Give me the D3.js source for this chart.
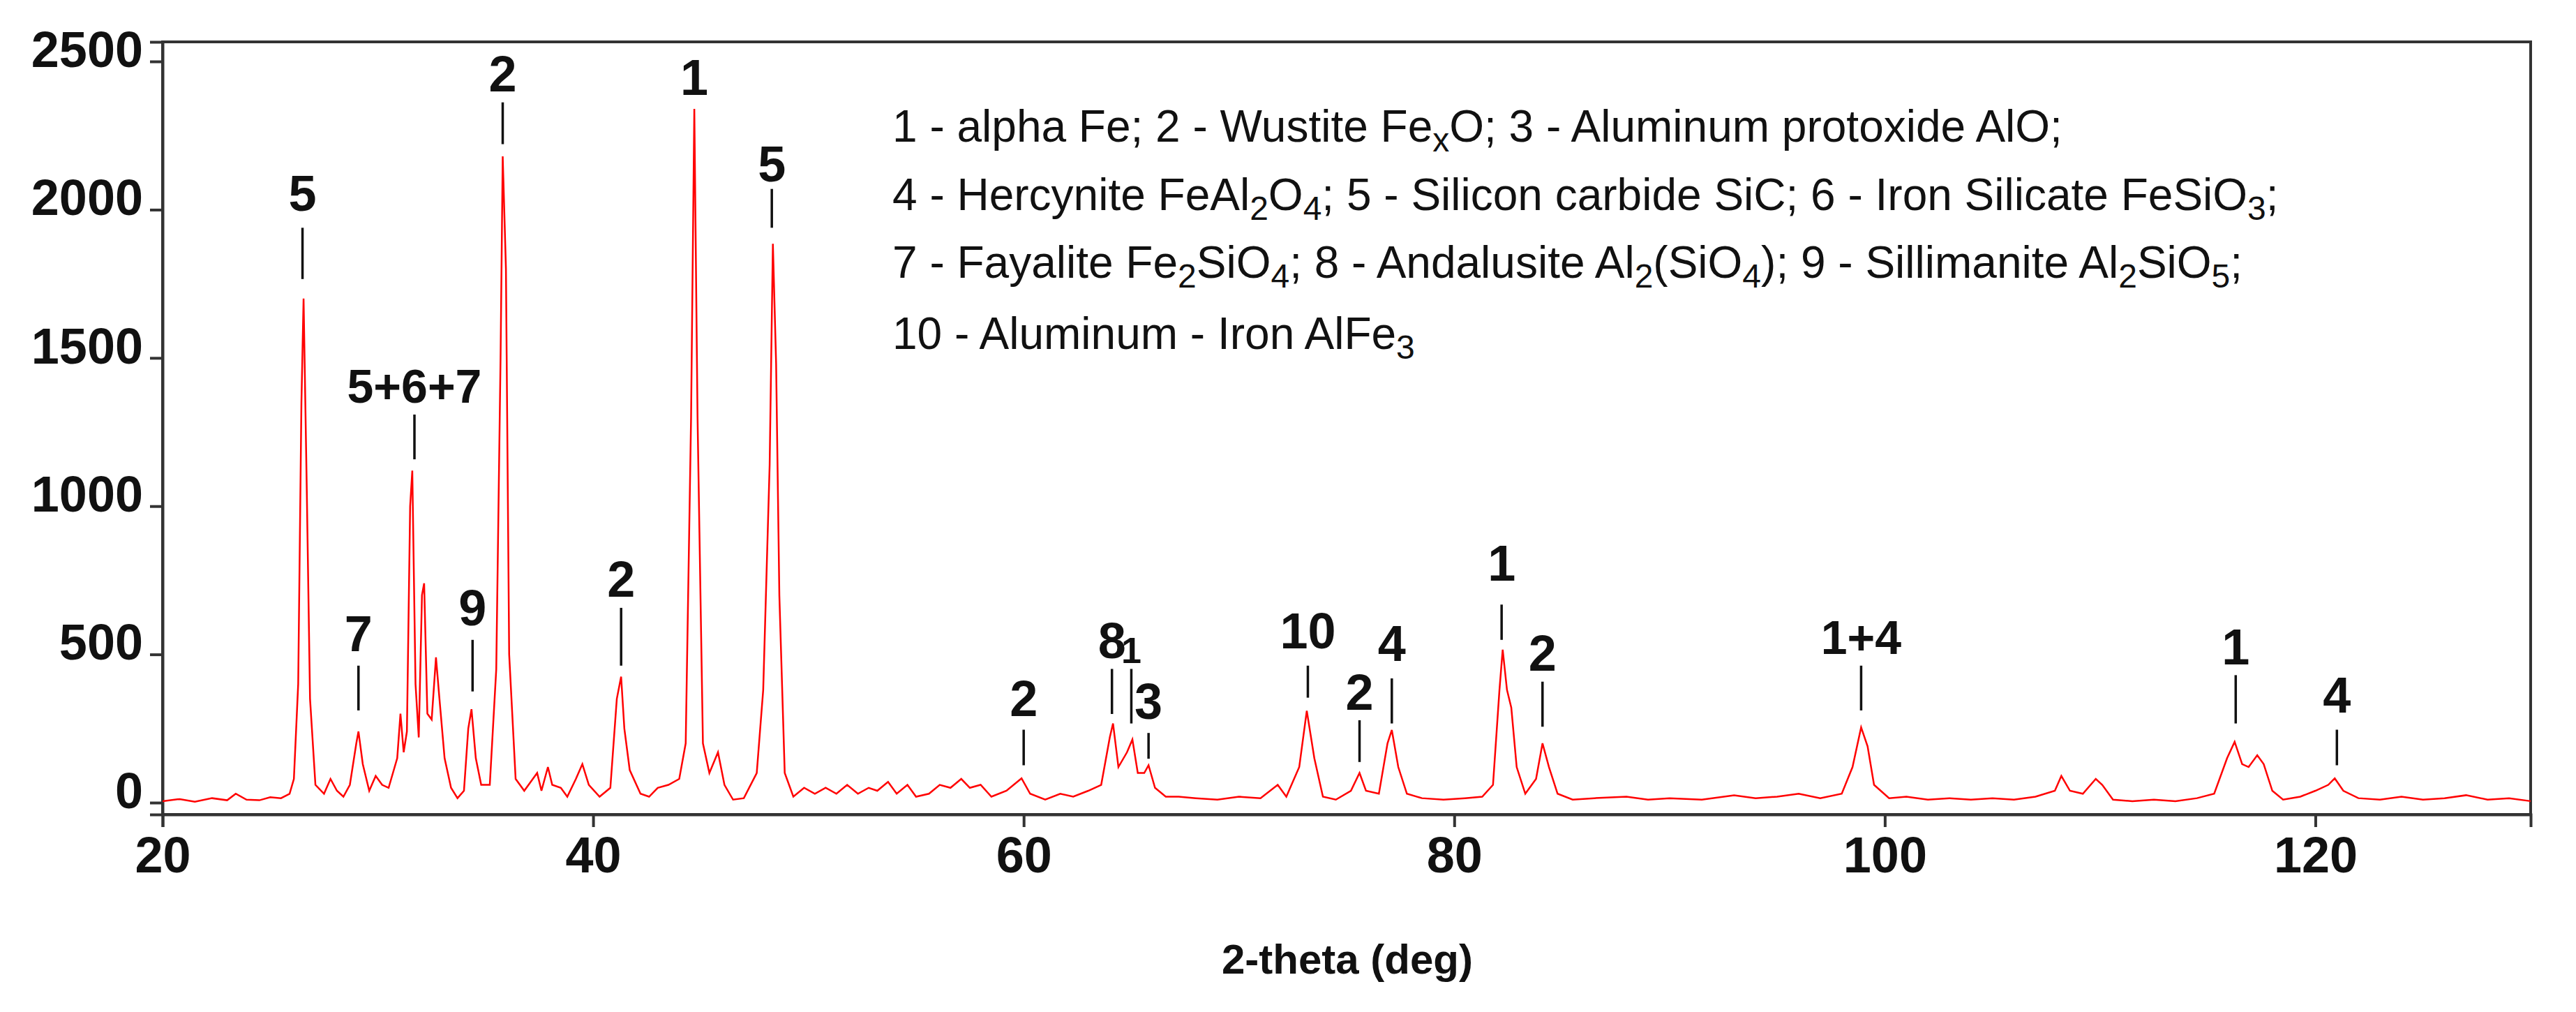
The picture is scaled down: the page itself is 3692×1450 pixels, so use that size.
<!DOCTYPE html><html><head><meta charset="utf-8">
<script src="https://cdn.jsdelivr.net/npm/d3@7"></script>
<style>body{margin:0;background:#fff}</style></head><body>
<svg id="c" width="3692" height="1450"></svg>
<script>
const xTicks=[20,40,60,80,100,120];
const yTicks=[0,500,1000,1500,2000,2500];
// spectrum [2theta, intensity]
const spectrum=[[20,5],[20.8,12],[21.5,3],[22.3,15],[23,8],[23.4,30],[23.9,10],[24.5,8],[25,18],[25.5,15],[25.9,30],[26.1,80],[26.3,400],[26.45,1350],[26.55,1700],[26.7,1050],[26.85,350],[27.1,60],[27.5,30],[27.8,80],[28.1,40],[28.4,20],[28.7,60],[29.0,200],[29.1,240],[29.3,130],[29.6,40],[29.9,90],[30.2,60],[30.5,50],[30.9,150],[31.05,300],[31.2,170],[31.35,240],[31.5,1000],[31.6,1120],[31.75,400],[31.9,220],[32.05,700],[32.15,740],[32.3,300],[32.5,280],[32.7,490],[32.85,360],[33.1,150],[33.4,50],[33.7,15],[34.0,40],[34.2,250],[34.35,315],[34.55,150],[34.8,60],[35.2,60],[35.5,450],[35.7,1500],[35.8,2180],[35.95,1800],[36.1,500],[36.4,80],[36.8,40],[37.2,80],[37.4,100],[37.6,40],[37.9,120],[38.1,60],[38.5,50],[38.8,20],[39.2,80],[39.5,130],[39.8,60],[40.3,20],[40.8,50],[41.1,350],[41.3,425],[41.45,250],[41.7,110],[42.2,30],[42.6,20],[43.0,50],[43.5,60],[44.0,80],[44.3,200],[44.55,1300],[44.7,2340],[44.85,1300],[45.1,200],[45.4,100],[45.8,170],[46.1,60],[46.5,10],[47,15],[47.6,100],[47.9,380],[48.2,1140],[48.35,1885],[48.5,1480],[48.65,700],[48.9,100],[49.3,20],[49.8,50],[50.3,30],[50.8,50],[51.3,30],[51.8,60],[52.3,30],[52.8,50],[53.2,40],[53.7,70],[54.1,30],[54.6,60],[55.0,20],[55.6,30],[56.1,60],[56.6,50],[57.1,80],[57.5,50],[58,60],[58.5,20],[59.2,40],[59.9,82],[60.3,30],[61,10],[61.7,30],[62.3,20],[63,40],[63.6,60],[64.0,220],[64.15,267],[64.4,120],[64.8,170],[65.05,213],[65.3,100],[65.6,100],[65.8,126],[66.1,50],[66.6,20],[67.2,20],[68,15],[69,10],[70,20],[71,15],[71.8,60],[72.2,20],[72.8,120],[73.15,310],[73.5,150],[73.9,20],[74.5,10],[75.2,40],[75.6,100],[75.9,40],[76.5,30],[76.9,200],[77.1,245],[77.4,120],[77.8,30],[78.5,15],[79.5,10],[80.5,15],[81.3,20],[81.8,60],[82.1,380],[82.25,516],[82.45,380],[82.65,320],[82.9,120],[83.3,30],[83.8,80],[84.1,200],[84.4,120],[84.8,30],[85.5,10],[86.5,15],[88,20],[89,10],[90,15],[91.5,10],[93,25],[94,15],[95,20],[96,30],[97,15],[98,30],[98.5,120],[98.9,254],[99.2,190],[99.5,60],[100.2,15],[101,20],[102,10],[103,15],[104,10],[105,15],[106,10],[107,20],[107.9,40],[108.2,90],[108.6,40],[109.2,30],[109.8,80],[110.1,60],[110.6,10],[111.5,5],[112.5,10],[113.5,5],[114.5,15],[115.3,30],[115.9,150],[116.25,205],[116.6,130],[116.9,120],[117.3,160],[117.6,130],[118,40],[118.5,10],[119.3,20],[120,40],[120.6,60],[120.9,82],[121.3,40],[122,15],[123,10],[124,20],[125,10],[126,15],[127,25],[128,10],[129,15],[130,5]];
// markers: label, 2theta, text centre, tick top, tick bottom (intensity units)
const markers=[["5",26.5,2058,1939,1766],["7",29.1,571,462,311],["5+6+7",31.7,1407,1309,1158],["9",34.4,658,549,375],["2",35.8,2460,2362,2221],["2",41.3,755,657,462],["1",44.7,2449,null,null],["5",48.3,2156,2070,1939],["2",60,354,246,126],["8",64.1,549,451,299],["1",65.0,516,451,267],["3",65.8,343,235,148],["10",73.2,581,462,354],["2",75.6,375,278,137],["4",77.1,538,419,267],["1",82.2,810,668,549],["2",84.1,505,408,256],["1+4",98.9,560,462,311],["1",116.3,527,430,267],["4",121,364,246,126]];
const legend=[
 [["1 - alpha Fe; 2 - Wustite Fe",""],["x","sub"],["O; 3 - Aluminum protoxide AlO;",""]],
 [["4 - Hercynite FeAl",""],["2","sub"],["O",""],["4","sub"],["; 5 - Silicon carbide SiC; 6 - Iron Silicate FeSiO",""],["3","sub"],[";",""]],
 [["7 - Fayalite Fe",""],["2","sub"],["SiO",""],["4","sub"],["; 8 - Andalusite Al",""],["2","sub"],["(SiO",""],["4","sub"],["); 9 - Sillimanite Al",""],["2","sub"],["SiO",""],["5","sub"],[";",""]],
 [["10 - Aluminum - Iron AlFe",""],["3","sub"]]];
const svg=d3.select("#c");
const x=d3.scaleLinear().domain([20,130]).range([233,3627]);
const y=d3.scaleLinear().domain([-40,2566]).range([1167,60]);
svg.append("rect").attr("x",233).attr("y",60).attr("width",3394).attr("height",1107).attr("fill","none").attr("stroke","#333").attr("stroke-width",4);
const xa=svg.append("g").attr("transform","translate(0,1167)").call(d3.axisBottom(x).tickValues(xTicks).tickSize(18).tickPadding(14).tickFormat(d3.format("d")));
const ya=svg.append("g").attr("transform","translate(233,0)").call(d3.axisLeft(y).tickValues(yTicks).tickSize(18).tickPadding(10).tickFormat(d3.format("d")));
[xa,ya].forEach(a=>{a.select(".domain").attr("stroke","#333").attr("stroke-width",4);a.selectAll(".tick line").attr("stroke","#333").attr("stroke-width",4);a.selectAll("text").attr("font-family","Liberation Sans, Arial").attr("font-weight","bold").attr("font-size",72).attr("fill","#111");});
ya.selectAll("text").attr("dy","0.1em");
svg.append("path").datum(spectrum).attr("d",d3.line().x(d=>x(d[0])).y(d=>y(d[1]))).attr("fill","none").attr("stroke","#f00").attr("stroke-width",2.5);
markers.forEach(m=>{
 svg.append("text").attr("x",x(m[1])).attr("y",y(m[2])).attr("dy","0.36em").attr("text-anchor","middle").attr("font-family","Liberation Sans, Arial").attr("font-size",m[0]=="1"&&m[1]==65?52:m[0].length>2?68:72).attr("font-weight","bold").attr("fill","#111").text(m[0]);
 if(m[3]!=null) svg.append("line").attr("x1",x(m[1])).attr("x2",x(m[1])).attr("y1",y(m[3])).attr("y2",y(m[4])).attr("stroke","#111").attr("stroke-width",3.5);
});
const ly=[203,301,398,500];
legend.forEach((ln,i)=>{
 const t=svg.append("text").attr("x",1279).attr("y",ly[i]).attr("font-family","Liberation Sans Narrow, Liberation Sans, Arial").attr("font-stretch","condensed").attr("font-size",64).attr("fill","#111");
 ln.forEach(s=>{const ts=t.append("tspan").text(s[0]);if(s[1]=="sub")ts.attr("font-size",48).attr("dy",14);else if(t.selectAll("tspan").size()>1)ts.attr("dy",-14);});
});
svg.append("text").attr("x",1931).attr("y",1395).attr("text-anchor","middle").attr("font-family","Liberation Sans Narrow, Liberation Sans, Arial").attr("font-weight","bold").attr("font-size",60).attr("fill","#111").text("2-theta (deg)");
</script></body></html>
